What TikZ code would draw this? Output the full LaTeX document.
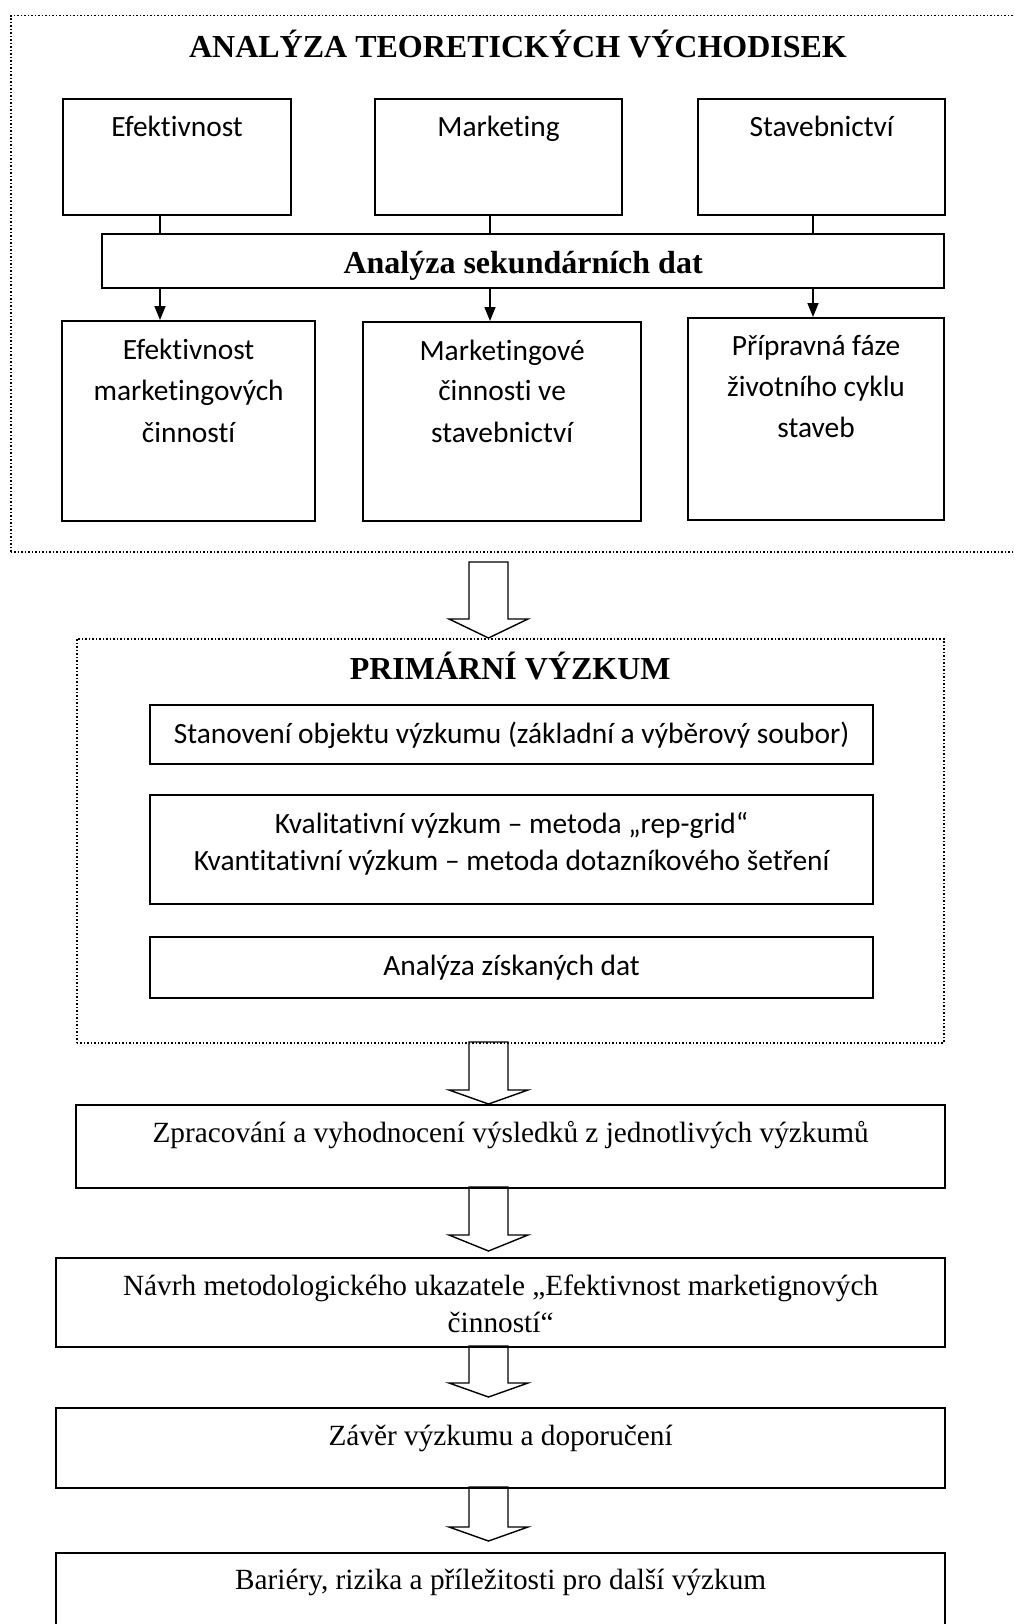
\documentclass[tikz,border=0pt]{standalone}
\usepackage{fontspec}
\setmainfont{Liberation Serif}
\newfontfamily\calfont[Ligatures=NoCommon]{Carlito}
\usetikzlibrary{arrows.meta,calc}
\newcommand\hollowarr[4]{%
  \draw[harrow] (#1-19.5,#2) -- (#1+19.5,#2) -- (#1+19.5,#3) -- (#1+39.5,#3)
    -- (#1,#4) -- (#1-39.5,#3) -- (#1-19.5,#3) -- cycle;}
\begin{document}
\begin{tikzpicture}[x=1pt,y=-1pt,
  box/.style={draw, line width=2.2pt, anchor=north west, inner sep=0pt},
  dotbox/.style={draw, line width=1.5pt, dash pattern=on 1.5pt off 2pt, anchor=north west, inner sep=0pt},
  cal/.style={font=\calfont\fontsize{29.4}{35}\selectfont, anchor=base, inner sep=0pt},
  tim/.style={font=\fontsize{29.3}{35}\selectfont, anchor=base, inner sep=0pt},
  timb/.style={font=\bfseries\fontsize{32}{38}\selectfont, anchor=base, inner sep=0pt},
  conn/.style={line width=1.6pt},
  thinarr/.style={conn, -{Triangle[length=14pt,width=11pt]}},
  harrow/.style={draw, line width=1.4pt, line join=miter},
]
\clip (0,0) rectangle (1013,1624);
\fill[white] (0,0) rectangle (1013,1624);

% ---------- block 1 ----------
\node[dotbox, minimum width=1010pt, minimum height=536pt] (outer1) at (10,15) {};
\node[timb] (t1) at (518,58) {ANALÝZA TEORETICKÝCH VÝCHODISEK};

\node[box, minimum width=228pt, minimum height=116pt] (e1) at (62,98) {};
\node[box, minimum width=247pt, minimum height=116pt] (m1) at (374,98) {};
\node[box, minimum width=247pt, minimum height=116pt] (s1) at (697,98) {};
\node[cal] (e1t) at (e1.center |- 0,137) {Efektivnost};
\node[cal] (m1t) at (m1.center |- 0,137) {Marketing};
\node[cal] (s1t) at (s1.center |- 0,137) {Stavebnictví};

\node[box, minimum width=842pt, minimum height=54pt] (sek) at (101,233) {};
\node[timb] (sekt) at (sek.center |- 0,273) {Analýza sekundárních dat};

\node[box, minimum width=253pt, minimum height=200pt] (e2) at (61,320) {};
\node[box, minimum width=278pt, minimum height=199pt] (m2) at (362,321) {};
\node[box, minimum width=256pt, minimum height=202pt] (s2) at (687,317) {};

\node[cal] (e2a) at (e2.center |- 0,359) {Efektivnost};
\node[cal] (e2b) at (e2.center |- 0,400) {marketingových};
\node[cal] (e2c) at (e2.center |- 0,442) {činností};
\node[cal] (m2a) at (m2.center |- 0,360) {Marketingové};
\node[cal] (m2b) at (m2.center |- 0,400) {činnosti ve};
\node[cal] (m2c) at (m2.center |- 0,442) {stavebnictví};
\node[cal] (s2a) at (s2.center |- 0,355) {Přípravná fáze};
\node[cal] (s2b) at (s2.center |- 0,396) {životního cyklu};
\node[cal] (s2c) at (s2.center |- 0,437) {staveb};

\coordinate (c1) at (160,0);
\coordinate (c2) at (490,0);
\coordinate (c3) at (813,0);
\foreach \c/\a/\b in {c1/e1/e2, c2/m1/m2, c3/s1/s2}{
  \draw[conn] (\c |- \a.south) -- (\c |- sek.north);
  \draw[thinarr] (\c |- sek.south) -- (\c |- \b.north);
}

% ---------- block 2 ----------
\hollowarr{488.5}{562}{619}{638}
\node[dotbox, minimum width=867pt, minimum height=404pt] (outer2) at (76,638) {};
\node[timb] (t2) at (outer2.center |- 0,679) {PRIMÁRNÍ VÝZKUM};

\node[box, minimum width=723pt, minimum height=59pt] (pa) at (149,704) {};
\node[box, minimum width=723pt, minimum height=109pt] (pb) at (149,794) {};
\node[box, minimum width=723pt, minimum height=61pt] (pc) at (149,936) {};
\node[cal] (pat) at (pa.center |- 0,743) {Stanovení objektu výzkumu (základní a výběrový soubor)};
\node[cal] (pbt1) at (pb.center |- 0,833) {Kvalitativní výzkum – metoda „rep-grid“};
\node[cal] (pbt2) at (pb.center |- 0,870) {Kvantitativní výzkum – metoda dotazníkového šetření};
\node[cal] (pct) at (pc.center |- 0,975) {Analýza získaných dat};

% ---------- later steps ----------
\hollowarr{488.5}{1042}{1090}{1104}
\node[box, minimum width=869pt, minimum height=83pt] (zp) at (75,1104) {};
\node[tim] (zpt) at (zp.center |- 0,1142) {Zpracování a vyhodnocení výsledků z jednotlivých výzkumů};

\hollowarr{488.5}{1187}{1235}{1251}
\node[box, minimum width=889pt, minimum height=89pt] (nv) at (55,1257) {};
\node[tim] (nvt1) at (nv.center |- 0,1295) {Návrh metodologického ukazatele „Efektivnost marketignových};
\node[tim] (nvt2) at (nv.center |- 0,1332) {činností“};

\hollowarr{488.5}{1346}{1383}{1397}
\node[box, minimum width=889pt, minimum height=80pt] (zv) at (55,1407) {};
\node[tim] (zvt) at (zv.center |- 0,1445) {Závěr výzkumu a doporučení};

\hollowarr{488.5}{1487}{1527}{1541}
\node[box, minimum width=889pt, minimum height=100pt] (br) at (55,1552) {};
\node[tim] (brt) at (br.center |- 0,1589) {Bariéry, rizika a příležitosti pro další výzkum};
\end{tikzpicture}
\end{document}
